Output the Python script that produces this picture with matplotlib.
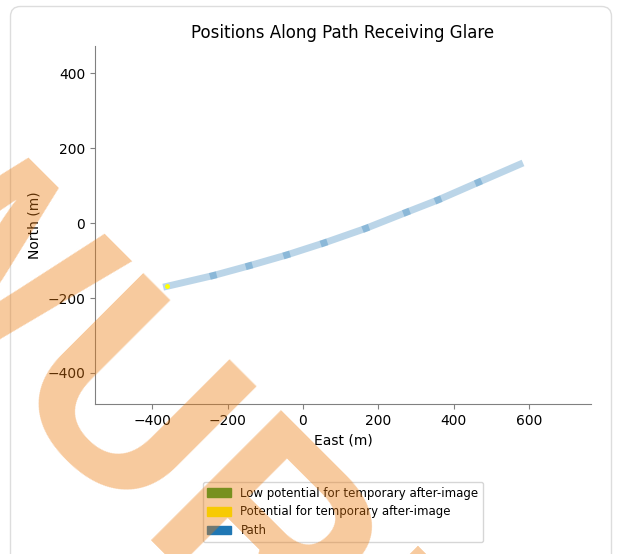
import matplotlib
matplotlib.use("Agg")
import matplotlib.pyplot as plt
from matplotlib.patches import Patch, FancyBboxPatch

# ---- data ----
path_east = [-362, -238, -143, -43, 56, 167, 275, 359, 466, 576]
path_north = [-169, -140, -114, -85, -53, -14, 29, 62, 109, 157]
glare_east = [-362]
glare_north = [-169]
legend_labels = ["Low potential for temporary after-image",
                 "Potential for temporary after-image",
                 "Path"]
legend_colors = ["tab:green", "yellow", "tab:blue"]
x_ticks = [-400, -200, 0, 200, 400, 600]
y_ticks = [-400, -200, 0, 200, 400]
watermark = "ENTWURF"

W, H = 626, 554
fig = plt.figure(figsize=(W / 100, H / 100), dpi=100)

# card border
card = FancyBboxPatch((10.5, -30), 601, H - 6.5 + 30,
                      boxstyle="round,pad=0,rounding_size=10",
                      transform=None, facecolor="white",
                      edgecolor="#dddddd", linewidth=1.0, zorder=-5)
fig.patches.append(card)
card.set_figure(fig)

ax = fig.add_axes([95 / W, 1 - 404 / H, (591 - 95) / W, (404 - 46) / H])
ax.set_facecolor("none")

for i in range(len(path_east) - 1):
    ax.plot(path_east[i:i + 2], path_north[i:i + 2], color="tab:blue",
            alpha=0.3, lw=5, solid_capstyle="projecting")
ax.plot(glare_east, glare_north, "o", color="yellow", ms=3.5, mew=0, zorder=5)

ax.set_xlim(-552, 765)
ax.set_ylim(-483, 473)
ax.set_xticks(x_ticks)
ax.set_yticks(y_ticks)
ax.spines["top"].set_visible(False)
ax.spines["right"].set_visible(False)
for s in ("left", "bottom"):
    ax.spines[s].set_color("#808080")
ax.tick_params(color="#808080")
ax.set_xlabel("East (m)")
ax.set_ylabel("North (m)")
ax.set_title("Positions Along Path Receiving Glare")

handles = [Patch(color=c, label=l) for c, l in zip(legend_colors, legend_labels)]
fig.legend(handles=handles, loc="center", bbox_to_anchor=(343 / W, 1 - 512 / H),
           fontsize=8.5)

# watermark
fig.text(-558.6 / W, 1 + 151.5 / H, watermark, rotation=-45, rotation_mode="anchor",
         ha="left", va="baseline", fontsize=192, family="Liberation Sans",
         weight="bold", color=(236 / 255, 122 / 255, 12 / 255), alpha=0.4, zorder=10)

fig.savefig("out.png", dpi=100)
